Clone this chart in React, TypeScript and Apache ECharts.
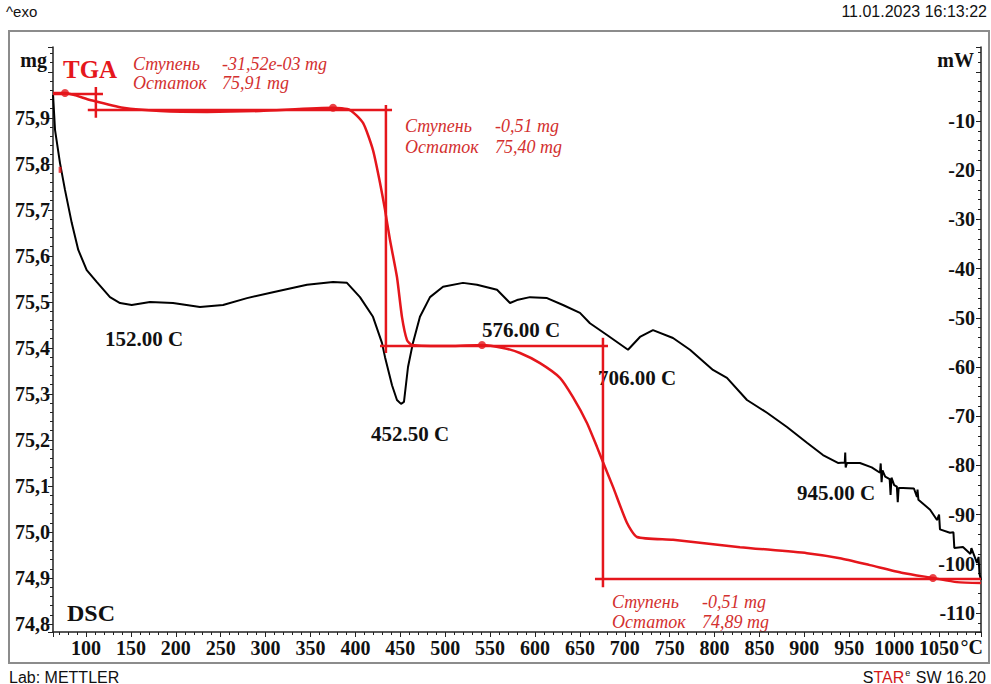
import React, { useEffect, useRef } from "react";
import * as echarts from "echarts";

// ---------- data ----------
const dscTemp = [
  63.3, 65.5, 71.0, 76.6, 84.1, 91.4, 100.8, 111.9, 126.7, 137.9, 150.9, 171.3, 196.9, 226.9,
  252.6, 279.3, 308.2, 346.1, 375.1, 390.6, 405.1, 419.6, 429.6, 433.0, 440.8, 446.3, 450.8,
  454.1, 458.6, 464.1, 471.9, 483.1, 497.6, 519.8, 535.4, 557.7, 572.2, 579.9, 594.4, 613.4,
  631.2, 650.1, 661.2, 680.2, 703.6, 716.9, 731.4, 753.7, 772.6, 798.2, 813.8, 836.1, 858.4,
  880.6, 902.9, 920.7, 937.4, 945.0, 945.5, 946.0, 947.4, 961.9, 975.0, 984.2, 985.0, 986.0,
  987.0, 990.0, 995.0, 996.0, 997.0, 1000.0, 1003.0, 1004.0, 1005.0, 1009.8, 1022.0, 1025.4,
  1026.0, 1027.0, 1040.0, 1047.7, 1050.0, 1051.0, 1062.1, 1066.0, 1067.0, 1076.6, 1085.0,
  1086.0, 1092.2, 1094.0, 1095.0, 1096.7,
];
const dscPower = [
  -4.7, -11.8, -18.5, -24.0, -30.7, -36.2, -40.3, -42.7, -45.8, -47.0, -47.4, -46.8, -47.0, -47.8,
  -47.4, -46.0, -44.8, -43.3, -42.7, -42.9, -45.8, -49.8, -55.1, -58.0, -63.7, -66.7, -67.5,
  -67.1, -60.0, -55.1, -49.8, -45.8, -43.7, -42.9, -43.3, -44.3, -47.0, -46.4, -45.8, -46.0,
  -47.4, -49.0, -51.1, -53.5, -56.5, -53.9, -52.5, -54.1, -56.5, -60.6, -62.2, -66.7, -69.3,
  -72.2, -75.4, -77.9, -79.5, -79.4, -77.4, -80.4, -79.5, -79.5, -80.4, -81.5, -79.6, -83.4,
  -81.0, -82.3, -82.8, -86.0, -82.5, -84.0, -84.3, -87.5, -84.6, -84.6, -84.7, -86.4,
  -84.9, -87.0, -89.0, -91.1, -90.0, -93.0, -93.7, -93.6, -96.8, -96.6, -98.0,
  -96.8, -99.8, -98.6, -102.0, -103.3,
];

const tgaTemp = [
  63.3, 76.6, 104.5, 141.2, 182.4, 234.7, 293.8, 375.1, 394.0, 408.5, 419.6, 427.4, 433.0,
  438.5, 446.3, 451.9, 457.5, 463.0, 505.3, 541.0, 564.4, 583.3, 605.6, 627.8, 642.3, 657.9,
  669.0, 675.7, 686.9, 702.4, 713.6, 753.7, 828.3, 902.9, 939.6, 973.0, 1009.8, 1043.2,
  1069.9, 1096.7,
];
const tgaMass = [
  75.954, 75.954, 75.939, 75.922, 75.915, 75.913, 75.915, 75.922, 75.917, 75.889, 75.83, 75.759,
  75.7, 75.635, 75.554, 75.467, 75.417, 75.4065, 75.404, 75.4065, 75.4, 75.389, 75.367, 75.335,
  75.293, 75.237, 75.185, 75.152, 75.098, 75.02, 74.989, 74.983, 74.967, 74.954, 74.943,
  74.928, 74.911, 74.9, 74.891, 74.889,
];

// step-evaluation construction lines [T, mg]
const stepSegments = [
  [[63.3, 75.952], [118.9, 75.952]],
  [[111.0, 75.967], [111.0, 75.9]],
  [[102.0, 75.917], [440.8, 75.917]],
  [[434.0, 75.928], [434.0, 75.389]],
  [[427.4, 75.404], [681.3, 75.404]],
  [[675.7, 75.422], [675.7, 74.88]],
  [[666.8, 74.898], [1096.7, 74.898]],
];
const stepPoints = [
  [76.6, 75.954],
  [375.1, 75.922],
  [541.0, 75.4065],
  [1043.2, 74.9],
];
const stray = [[71.2, 75.787]];

const peakTemps = [152.0, 452.5, 576.0, 706.0, 945.0];
const stepWord = "Ступень";
const residueWord = "Остаток";
const stepValues = ["-31,52e-03 mg", "-0,51 mg", "-0,51 mg"];
const residueValues = ["75,91 mg", "75,40 mg", "74,89 mg"];

// ---------- layout ----------
const peakPos = [
  [105, 339],
  [371, 434],
  [482, 330],
  [598, 378],
  [797, 493],
];
const stepTextPos = [
  [133, 222, 64, 83],
  [405, 495, 126, 147],
  [612, 702, 602, 622],
];

const RED = "#e5161c";
const RED_TEXT = "#d3302f";
const SERIF = '"Liberation Serif", "Times New Roman", serif';
const SANS = '"Liberation Sans", Arial, sans-serif';

export default function App() {
  const ref = useRef<HTMLDivElement>(null);

  useEffect(() => {
    if (!ref.current) return;
    const chart = echarts.init(ref.current, undefined, { renderer: "svg" });

    const axisCommonLabel = {
      fontFamily: SERIF,
      fontWeight: "bold" as const,
      fontSize: 20,
      color: "#111",
    };

    const graphic: any[] = [
      {
        type: "rect",
        shape: { x: 9, y: 31, width: 980, height: 632 },
        style: { fill: "none", stroke: "#8c8c8c", lineWidth: 2 },
        z: 0,
      },
      {
        type: "text",
        x: 6,
        y: 11,
        style: { text: "^exo", fontFamily: SANS, fontSize: 15, fill: "#111", verticalAlign: "middle" },
      },
      {
        type: "text",
        x: 987,
        y: 11,
        style: {
          text: "11.01.2023 16:13:22",
          fontFamily: SANS,
          fontSize: 16,
          fill: "#111",
          align: "right",
          verticalAlign: "middle",
        },
      },
      {
        type: "text",
        x: 9,
        y: 677,
        style: { text: "Lab: METTLER", fontFamily: SANS, fontSize: 16, fill: "#111", verticalAlign: "middle" },
      },
      {
        type: "text",
        x: 986,
        y: 677,
        style: {
          text: "{k|S}{r|TAR}{s|e}{k| SW 16.20}",
          align: "right",
          verticalAlign: "middle",
          rich: {
            k: { fontFamily: SANS, fontSize: 16, fill: "#111" },
            r: { fontFamily: SANS, fontSize: 16, fill: "#d21a1a" },
            s: { fontFamily: SANS, fontSize: 9, fill: "#111", verticalAlign: "top", padding: [0, 1, 8, 1] },
          },
        },
      },
      {
        type: "text",
        x: 47,
        y: 60,
        style: { text: "mg", fontFamily: SERIF, fontWeight: "bold", fontSize: 20, fill: "#111", align: "right", verticalAlign: "middle" },
      },
      {
        type: "text",
        x: 974,
        y: 60,
        style: { text: "mW", fontFamily: SERIF, fontWeight: "bold", fontSize: 20, fill: "#111", align: "right", verticalAlign: "middle" },
      },
      {
        type: "text",
        x: 983,
        y: 647,
        style: { text: "°C", fontFamily: SERIF, fontWeight: "bold", fontSize: 20, fill: "#111", align: "right", verticalAlign: "middle" },
      },
      {
        type: "text",
        x: 63,
        y: 69,
        style: { text: "TGA", fontFamily: SERIF, fontWeight: "bold", fontSize: 25, fill: RED, verticalAlign: "middle" },
      },
      {
        type: "text",
        x: 67,
        y: 613,
        style: { text: "DSC", fontFamily: SERIF, fontWeight: "bold", fontSize: 24, fill: "#111", verticalAlign: "middle" },
      },
    ];

    peakTemps.forEach((t, i) => {
      graphic.push({
        type: "text",
        x: peakPos[i][0],
        y: peakPos[i][1],
        style: {
          text: `${t.toFixed(2)} C`,
          fontFamily: SERIF,
          fontWeight: "bold",
          fontSize: 21,
          fill: "#111",
          verticalAlign: "middle",
        },
      });
    });

    stepValues.forEach((v, i) => {
      const [x1, x2, y1, y2] = stepTextPos[i];
      const st = { fontFamily: SERIF, fontStyle: "italic", fontSize: 18, fill: RED_TEXT, verticalAlign: "middle" };
      graphic.push({ type: "text", x: x1, y: y1, style: { ...st, text: stepWord } });
      graphic.push({ type: "text", x: x2, y: y1, style: { ...st, text: v } });
      graphic.push({ type: "text", x: x1, y: y2, style: { ...st, text: residueWord } });
      graphic.push({ type: "text", x: x2, y: y2, style: { ...st, text: residueValues[i] } });
    });

    const series: any[] = [
      {
        type: "line",
        name: "DSC",
        yAxisIndex: 1,
        data: dscTemp.map((t, i) => [t, dscPower[i]]),
        showSymbol: false,
        symbol: "none",
        lineStyle: { color: "#000", width: 2 },
        z: 3,
      },
      {
        type: "line",
        name: "TGA",
        yAxisIndex: 0,
        data: tgaTemp.map((t, i) => [t, tgaMass[i]]),
        showSymbol: false,
        symbol: "none",
        smooth: 0.2,
        lineStyle: { color: RED, width: 2.5 },
        z: 4,
      },
      ...stepSegments.map((seg) => ({
        type: "line",
        yAxisIndex: 0,
        data: seg,
        symbol: "none",
        lineStyle: { color: RED, width: 2.5 },
        z: 4,
      })),
      {
        type: "scatter",
        yAxisIndex: 0,
        data: stepPoints,
        symbolSize: 8,
        itemStyle: { color: RED },
        z: 5,
      },
      {
        type: "scatter",
        yAxisIndex: 0,
        data: stray,
        symbol: "rect",
        symbolSize: [3, 6],
        itemStyle: { color: RED },
        z: 5,
      },
    ];

    chart.setOption({
      animation: false,
      backgroundColor: "#fff",
      grid: { left: 53, right: 10, top: 47, bottom: 52, containLabel: false },
      xAxis: {
        type: "value",
        min: 63.25,
        max: 1096.7,
        splitNumber: 20,
        axisLine: { show: true, onZero: false, lineStyle: { color: "#222", width: 1.5 } },
        axisTick: { show: true, length: 5, lineStyle: { color: "#222" } },
        minorTick: { show: true, splitNumber: 5, length: 3, lineStyle: { color: "#222" } },
        splitLine: { show: false },
        minorSplitLine: { show: false },
        axisLabel: {
          ...axisCommonLabel,
          margin: 6,
          showMinLabel: false,
          showMaxLabel: false,
          formatter: (v: number) => {
            const r = Math.round(v);
            if (Math.abs(v - r) > 1e-6 || r % 50 !== 0 || r > 1050) return "";
            return String(r);
          },
        },
      },
      yAxis: [
        {
          type: "value",
          position: "left",
          min: 74.7826,
          max: 76.054,
          splitNumber: 13,
          axisLine: { show: true, onZero: false, lineStyle: { color: "#222", width: 1.5 } },
          axisTick: { show: true, length: 5, lineStyle: { color: "#222" } },
          minorTick: { show: true, splitNumber: 5, length: 3, lineStyle: { color: "#222" } },
          splitLine: { show: false },
          axisLabel: {
            ...axisCommonLabel,
            margin: 3,
            formatter: (v: number) => {
              const r = Math.round(v * 10);
              if (Math.abs(v * 10 - r) > 1e-6 || r > 759) return "";
              return (r / 10).toFixed(1).replace(".", ",");
            },
          },
        },
        {
          type: "value",
          position: "right",
          min: -113.86,
          max: 5.04,
          splitNumber: 12,
          axisLine: { show: true, onZero: false, lineStyle: { color: "#222", width: 1.5 } },
          axisTick: { show: true, inside: true, length: 5, lineStyle: { color: "#222" } },
          minorTick: { show: true, splitNumber: 5, length: 3, lineStyle: { color: "#222" } },
          splitLine: { show: false },
          axisLabel: {
            ...axisCommonLabel,
            inside: true,
            margin: 6,
            formatter: (v: number) => {
              const r = Math.round(v);
              if (Math.abs(v - r) > 1e-6 || r % 10 !== 0 || r > -10) return "";
              return String(r);
            },
          },
        },
      ],
      graphic,
      series,
    });

    return () => chart.dispose();
  }, []);

  return (
    <div
      ref={ref}
      style={{ position: "absolute", left: 0, top: 0, width: 991, height: 684, background: "#fff" }}
    />
  );
}
